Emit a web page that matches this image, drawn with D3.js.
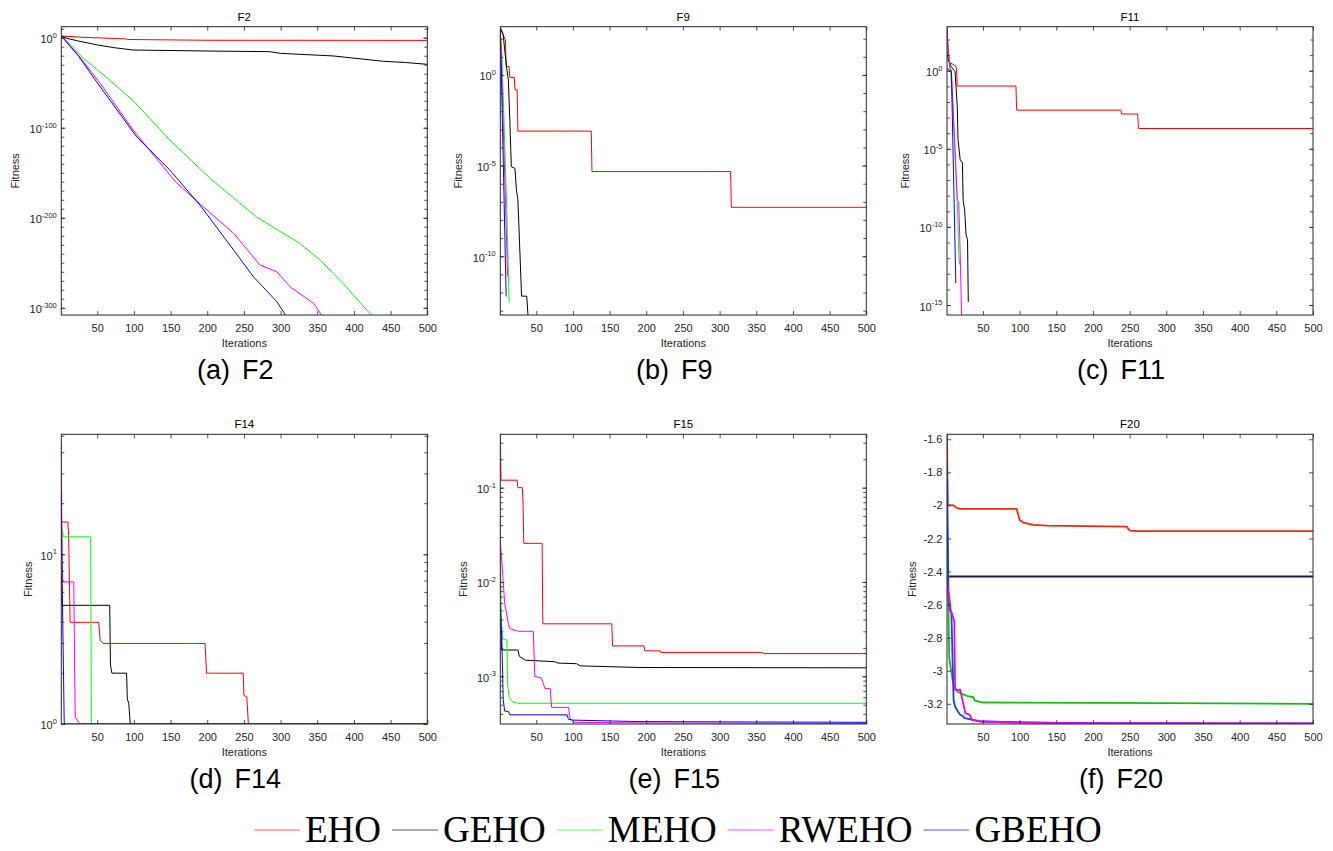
<!DOCTYPE html>
<html>
<head>
<meta charset="utf-8">
<script src="https://cdn.jsdelivr.net/npm/d3@7"></script>
<style>
  body { margin: 0; background: #fff; }
  svg { display: block; }
</style>
</head>
<body>
<div id="chart"></div>
<script>
// Series names / colours (legend order = drawing order)
var methods = ["EHO", "GEHO", "MEHO", "RWEHO", "GBEHO"];
var colors = ["#ff0000", "#000000", "#00ff00", "#ff00ff", "#0000ff"];
var xTicks = [50, 100, 150, 200, 250, 300, 350, 400, 450, 500];

// ---- F2 : [iteration, fitness]
var f2EHO = [[1, 80], [30, 3], [90, 0.04], [92, 0.01], [204, 1.3e-3], [500, 1e-3]];
var f2GEHO = [[1, 80], [10, 0.1], [22, 5e-4], [50, 1e-8], [72, 1e-11], [99, 2e-14], [199, 1.6e-15], [285, 3e-16],
  [300, 4e-18], [372, 5e-21], [440, 6e-27], [470, 3e-28], [500, 2.5e-30]];
var f2MEHO = [[1, 80], [15, 1e-9], [31, 1.3e-23], [65, 2e-46], [99, 1e-70], [149, 2e-114], [204, 5e-157],
  [267, 1e-199], [326, 4e-229], [354, 1e-247], [385, 1.3e-273], [424, 5e-309]];
var f2RWEHO = [[1, 80], [25, 1e-20], [54, 2e-51], [99, 2.5e-103], [157, 4e-161], [195, 8e-189], [236, 5e-218],
  [272, 2.5e-253], [295, 1e-260], [313, 2e-277], [345, 8e-296], [356, 5e-309]];
var f2GBEHO = [[1, 80], [25, 1e-21], [49, 1.3e-49], [104, 4e-111], [149, 1e-147], [190, 1.3e-186],
  [236, 1.3e-236], [263, 2.5e-266], [295, 5e-294], [307, 5e-309]];

// ---- F9
var f9EHO = [[1, 400], [4, 200], [8, 85], [9, 2.9], [13, 2.9], [14, 0.74], [20, 0.74], [21, 0.15], [24, 0.15],
  [25, 8e-4], [125, 8e-4], [126, 4.7e-6], [315, 4.7e-6], [316, 5e-8], [500, 5e-8]];
var f9GEHO = [[1, 400], [2, 330], [5, 160], [7, 24], [10, 1.9], [12, 0.52], [14, 3.2e-3], [16, 8.7e-6], [21, 7e-6],
  [23, 4.6e-7], [25, 1.3e-7], [30, 6.3e-13], [37, 6.3e-13], [39, 4e-14]];
var f9MEHO = [[1, 400], [3, 20], [7, 2e-4], [10, 2e-8], [13, 3e-13]];
var f9RWEHO = [[1, 250], [2, 25], [11, 8e-12]];
var f9GBEHO = [[1, 300], [3, 0.1], [9, 6e-13]];

// ---- F11
var f11EHO = [[1, 15], [3, 3.8], [13, 2], [14, 1.1], [15, 0.105], [95, 0.105], [96, 3e-3], [238, 3e-3],
  [239, 1.7e-3], [261, 1.7e-3], [262, 2e-4], [500, 2e-4]];
var f11GEHO = [[1, 700], [3, 4.9], [7, 1.8], [12, 0.87], [15, 5e-3], [16, 4e-5], [19, 2e-6], [22, 1.3e-6],
  [23, 5e-9], [25, 1.3e-9], [27, 3e-11], [29, 1.6e-11], [30, 1.6e-15]];
var f11MEHO = [[1, 50], [3, 12.9], [6, 0.87], [10, 7e-4], [15, 5e-9], [17, 2e-12], [18, 4e-13]];
var f11RWEHO = [[1, 250], [5, 1.4], [7, 1.1], [15, 5e-9], [17, 4e-9], [19, 2e-12], [21, 1e-16]];
var f11GBEHO = [[1, 1.4], [7, 0.87], [13, 2.5e-14]];

// ---- F14
var f14EHO = [[1, 15.5], [10, 15.5], [11, 12.9], [13, 3.97], [52, 3.97], [54, 3.12], [58, 2.98], [197, 2.98],
  [199, 1.99], [249, 1.99], [250, 1.47], [254, 1.44], [256, 0.998], [500, 0.998]];
var f14GEHO = [[1, 7.5], [2, 5.0], [67, 5.0], [68, 2.22], [70, 1.99], [90, 1.99], [91, 1.4], [93, 1.32],
  [95, 0.998], [500, 0.998]];
var f14MEHO = [[1, 14.5], [3, 13.4], [4, 12.67], [41, 12.67], [42, 0.998], [500, 0.998]];
var f14RWEHO = [[1, 45], [2, 9.2], [3, 6.87], [18, 6.87], [19, 2.5], [20, 1.1], [26, 0.998], [500, 0.998]];
var f14GBEHO = [[1, 24], [2, 8], [5, 0.998], [500, 0.998]];

// ---- F15
var f15EHO = [[1, 0.36], [2, 0.12], [24, 0.12], [25, 0.1], [31, 0.1], [32, 0.069], [33, 0.0257], [58, 0.0257],
  [59, 0.0036], [153, 0.0036], [154, 0.0021], [197, 0.0021], [198, 0.00186], [219, 0.00186], [220, 0.00179],
  [359, 0.00179], [360, 0.00174], [500, 0.00174]];
var f15GEHO = [[1, 0.004], [3, 0.0019], [25, 0.0019], [27, 0.00163], [35, 0.00148], [75, 0.00143], [80, 0.00138],
  [105, 0.00136], [110, 0.00129], [190, 0.00124], [500, 0.00123]];
var f15MEHO = [[1, 0.045], [2, 0.005], [4, 0.00244], [10, 0.00244], [11, 0.00081], [13, 0.0006], [18, 0.000537],
  [25, 0.000518], [500, 0.000518]];
var f15RWEHO = [[1, 0.027], [5, 0.0101], [7, 0.0059], [12, 0.0036], [14, 0.0032], [26, 0.003], [46, 0.003],
  [48, 0.001], [57, 0.00096], [62, 0.00074], [69, 0.00074], [71, 0.000468], [94, 0.000468], [96, 0.000359],
  [101, 0.000325], [200, 0.00032], [500, 0.000316]];
var f15GBEHO = [[1, 0.006], [3, 0.0025], [5, 0.000562], [7, 0.000427], [12, 0.000424], [14, 0.00039], [92, 0.00039],
  [94, 0.00035], [100, 0.000343], [190, 0.000331], [500, 0.000325]];

// ---- F20
var f20EHO = [[1, -1.574], [2, -1.997], [10, -2.0], [15, -2.017], [19, -2.021], [96, -2.021], [100, -2.088],
  [105, -2.104], [119, -2.118], [137, -2.122], [246, -2.128], [250, -2.152], [264, -2.156], [500, -2.156]];
var f20GEHO = [[1, -2.43], [500, -2.43]];
var f20MEHO = [[1, -2.057], [3, -2.632], [4, -2.914], [6, -2.984], [9, -3.065], [12, -3.105], [15, -3.125],
  [19, -3.135], [28, -3.152], [37, -3.16], [39, -3.18], [50, -3.192], [300, -3.196], [500, -3.2]];
var f20RWEHO = [[1, -2.47], [4, -2.551], [6, -2.632], [9, -2.672], [11, -2.702], [12, -3.115], [19, -3.115],
  [21, -3.155], [26, -3.256], [32, -3.266], [35, -3.297], [50, -3.307], [92, -3.313], [200, -3.317], [500, -3.318]];
var f20GBEHO = [[1, -1.765], [3, -2.551], [5, -2.632], [7, -2.652], [10, -3.176], [12, -3.216], [16, -3.246],
  [19, -3.266], [22, -3.272], [25, -3.287], [37, -3.297], [46, -3.307], [180, -3.317], [500, -3.318]];

// y tick labels (log panels: exponents)
var f2Exp = [0, -100, -200, -300];
var f9Exp = [0, -5, -10];
var f11Exp = [0, -5, -10, -15];
var f14Exp = [0, 1];
var f15Exp = [-3, -2, -1];
var f20Ticks = [-1.6, -1.8, -2, -2.2, -2.4, -2.6, -2.8, -3, -3.2];

// minor log ticks inside a domain
function decadeMinors(lo, hi) {
    var out = [];
    for (var e = Math.floor(Math.log10(lo)); e <= Math.ceil(Math.log10(hi)); e++)
        for (var k = 1; k < 10; k++) {
            var v = k * Math.pow(10, e);
            if (v >= lo && v <= hi) out.push(v);
        }
    return out;
}
function expMinors(lo, hi, step) {
    return d3.range(lo, hi + 1, step).map(function (e) { return Math.pow(10, e); });
}

var panels = [
    {title: "F2", tag: "(a)", box: [61.3, 26.7, 427.3, 315], log: true, yDomain: [1e-308, 1.6e12],
     exps: f2Exp, minors: expMinors(-300, 10, 10), ylabDx: -46, series: [f2EHO, f2GEHO, f2MEHO, f2RWEHO, f2GBEHO]},
    {title: "F9", tag: "(b)", box: [500.3, 26.7, 866.3, 315], log: true, yDomain: [5.75e-14, 457],
     exps: f9Exp, minors: expMinors(-13, 2, 1), ylabDx: -42, series: [f9EHO, f9GEHO, f9MEHO, f9RWEHO, f9GBEHO]},
    {title: "F11", tag: "(c)", box: [947, 26.7, 1313, 315], log: true, yDomain: [2.3e-16, 660],
     exps: f11Exp, minors: expMinors(-15, 2, 1), ylabDx: -42, series: [f11EHO, f11GEHO, f11MEHO, f11RWEHO, f11GBEHO]},
    {title: "F14", tag: "(d)", box: [61.3, 434.3, 427.3, 724], log: true, yDomain: [0.998, 51],
     exps: f14Exp, minors: decadeMinors(1, 51), ylabDx: -33, series: [f14EHO, f14GEHO, f14MEHO, f14RWEHO, f14GBEHO]},
    {title: "F15", tag: "(e)", box: [500.3, 434.3, 866.3, 724], log: true, yDomain: [3.12e-4, 0.368],
     exps: f15Exp, minors: decadeMinors(3.12e-4, 0.368), ylabDx: -37, series: [f15EHO, f15GEHO, f15MEHO, f15RWEHO, f15GBEHO]},
    {title: "F20", tag: "(f)", box: [947, 434.3, 1313, 724], log: false, yDomain: [-3.322, -1.57],
     ticks: f20Ticks, ylabDx: -35, lw: 1.8, order: [0, 1, 2, 4, 3],
     colors: ["#ee2a0a", "#2a1850", "#10c010", "#f000f0", "#1048d8"],
     series: [f20EHO, f20GEHO, f20MEHO, f20RWEHO, f20GBEHO]}
];

var font = "'Liberation Sans', Arial, Helvetica, sans-serif";
var axisColor = "#262626";

var svg = d3.select("#chart").append("svg")
    .attr("width", 1333)
    .attr("height", 851)
    .style("font-family", font);

function styleAxis(g) {
    g.attr("font-family", font).attr("font-size", 11);
    g.select(".domain").remove();
    g.selectAll("line").attr("stroke", axisColor).attr("stroke-width", 0.8);
    g.selectAll("text").attr("fill", axisColor);
}

panels.forEach(function (p, pi) {
    var x0 = p.box[0], y0 = p.box[1], x1 = p.box[2], y1 = p.box[3];
    var cx = (x0 + x1) / 2, cy = (y0 + y1) / 2;

    var x = d3.scaleLinear().domain([1, 500]).range([x0, x1]);
    var y = (p.log ? d3.scaleLog() : d3.scaleLinear()).domain(p.yDomain).range([y1, y0]);

    var g = svg.append("g").attr("class", "panel");

    // Clip lines to the plot box
    var cid = "clip" + pi;
    svg.append("clipPath").attr("id", cid)
        .append("rect")
            .attr("x", x0).attr("y", y0)
            .attr("width", x1 - x0).attr("height", y1 - y0);

    var line = d3.line()
        .x(function (d) { return x(d[0]); })
        .y(function (d) { return y(d[1]); });

    var lines = g.append("g").attr("clip-path", "url(#" + cid + ")");
    (p.order || [0, 1, 2, 3, 4]).forEach(function (i) {
        lines.append("path")
            .attr("d", line(p.series[i]))
            .attr("fill", "none")
            .attr("stroke", (p.colors || colors)[i])
            .attr("stroke-width", p.lw || 1)
            .attr("stroke-linejoin", "round");
    });

    // X axes (bottom labelled, top mirrored)
    g.append("g")
        .attr("transform", "translate(0," + y1 + ")")
        .call(d3.axisBottom(x).tickValues(xTicks).tickSize(-4).tickPadding(9))
        .call(styleAxis);
    g.append("g")
        .attr("transform", "translate(0," + y0 + ")")
        .call(d3.axisTop(x).tickValues(xTicks).tickSize(-4).tickFormat(""))
        .call(styleAxis);

    // Y axes
    var majors = p.log ? p.exps.map(function (e) { return Math.pow(10, e); }) : p.ticks;
    var yl = g.append("g")
        .attr("transform", "translate(" + x0 + ",0)")
        .call(d3.axisLeft(y).tickValues(majors).tickSize(-4).tickPadding(4.5)
            .tickFormat(function (d, i) { return p.log ? String(p.exps[i]) : String(p.ticks[i]); }))
        .call(styleAxis);
    g.append("g")
        .attr("transform", "translate(" + x1 + ",0)")
        .call(d3.axisRight(y).tickValues(majors).tickSize(-4).tickFormat(""))
        .call(styleAxis);
    if (p.minors) {
        g.append("g")
            .attr("transform", "translate(" + x0 + ",0)")
            .call(d3.axisLeft(y).tickValues(p.minors).tickSize(-3).tickFormat(""))
            .call(styleAxis);
        g.append("g")
            .attr("transform", "translate(" + x1 + ",0)")
            .call(d3.axisRight(y).tickValues(p.minors).tickSize(-3).tickFormat(""))
            .call(styleAxis);
    }

    // 10^e labels with superscripts
    if (p.log) {
        yl.selectAll(".tick text").each(function () {
            var t = d3.select(this);
            var e = t.text();
            t.text("").attr("dy", null).attr("y", 5);
            t.append("tspan").text("10");
            t.append("tspan").attr("dy", -5.5).attr("font-size", 7.5).text(e);
        });
    }

    // Box
    g.append("rect")
        .attr("x", x0).attr("y", y0)
        .attr("width", x1 - x0).attr("height", y1 - y0)
        .attr("fill", "none")
        .attr("stroke", axisColor)
        .attr("stroke-width", 1);

    // Title, axis labels, caption
    g.append("text")
        .attr("x", cx).attr("y", y0 - 6)
        .attr("text-anchor", "middle")
        .attr("font-size", 11.5)
        .text(p.title);

    g.append("text")
        .attr("x", cx).attr("y", y1 + 32)
        .attr("text-anchor", "middle")
        .attr("font-size", 11)
        .attr("fill", axisColor)
        .text("Iterations");

    g.append("text")
        .attr("transform", "translate(" + (x0 + p.ylabDx) + "," + cy + ") rotate(-90)")
        .attr("text-anchor", "middle")
        .attr("dy", "0.35em")
        .attr("font-size", 11)
        .attr("fill", axisColor)
        .text("Fitness");

    var cap = g.append("text")
        .attr("x", cx - 9).attr("y", y1 + 64)
        .attr("text-anchor", "middle")
        .attr("font-size", 27);
    cap.append("tspan").text(p.tag);
    cap.append("tspan").attr("dx", 12).text(p.title);
});

// Legend (serif), kept inside the bottom edge
var legend = svg.append("g").attr("class", "legend");
var lx = 254;
methods.forEach(function (m, i) {
    legend.append("line")
        .attr("x1", lx).attr("x2", lx + 46)
        .attr("y1", 830).attr("y2", 830)
        .attr("stroke", colors[i])
        .attr("stroke-opacity", 0.65)
        .attr("stroke-width", 1);
    var t = legend.append("text")
        .attr("x", lx + 51).attr("y", 842)
        .attr("font-family", "'Liberation Serif', 'Times New Roman', serif")
        .attr("font-size", 37)
        .text(m);
    var w = t.node().getComputedTextLength();
    lx += 51 + w + 11;
});
</script>
</body>
</html>
